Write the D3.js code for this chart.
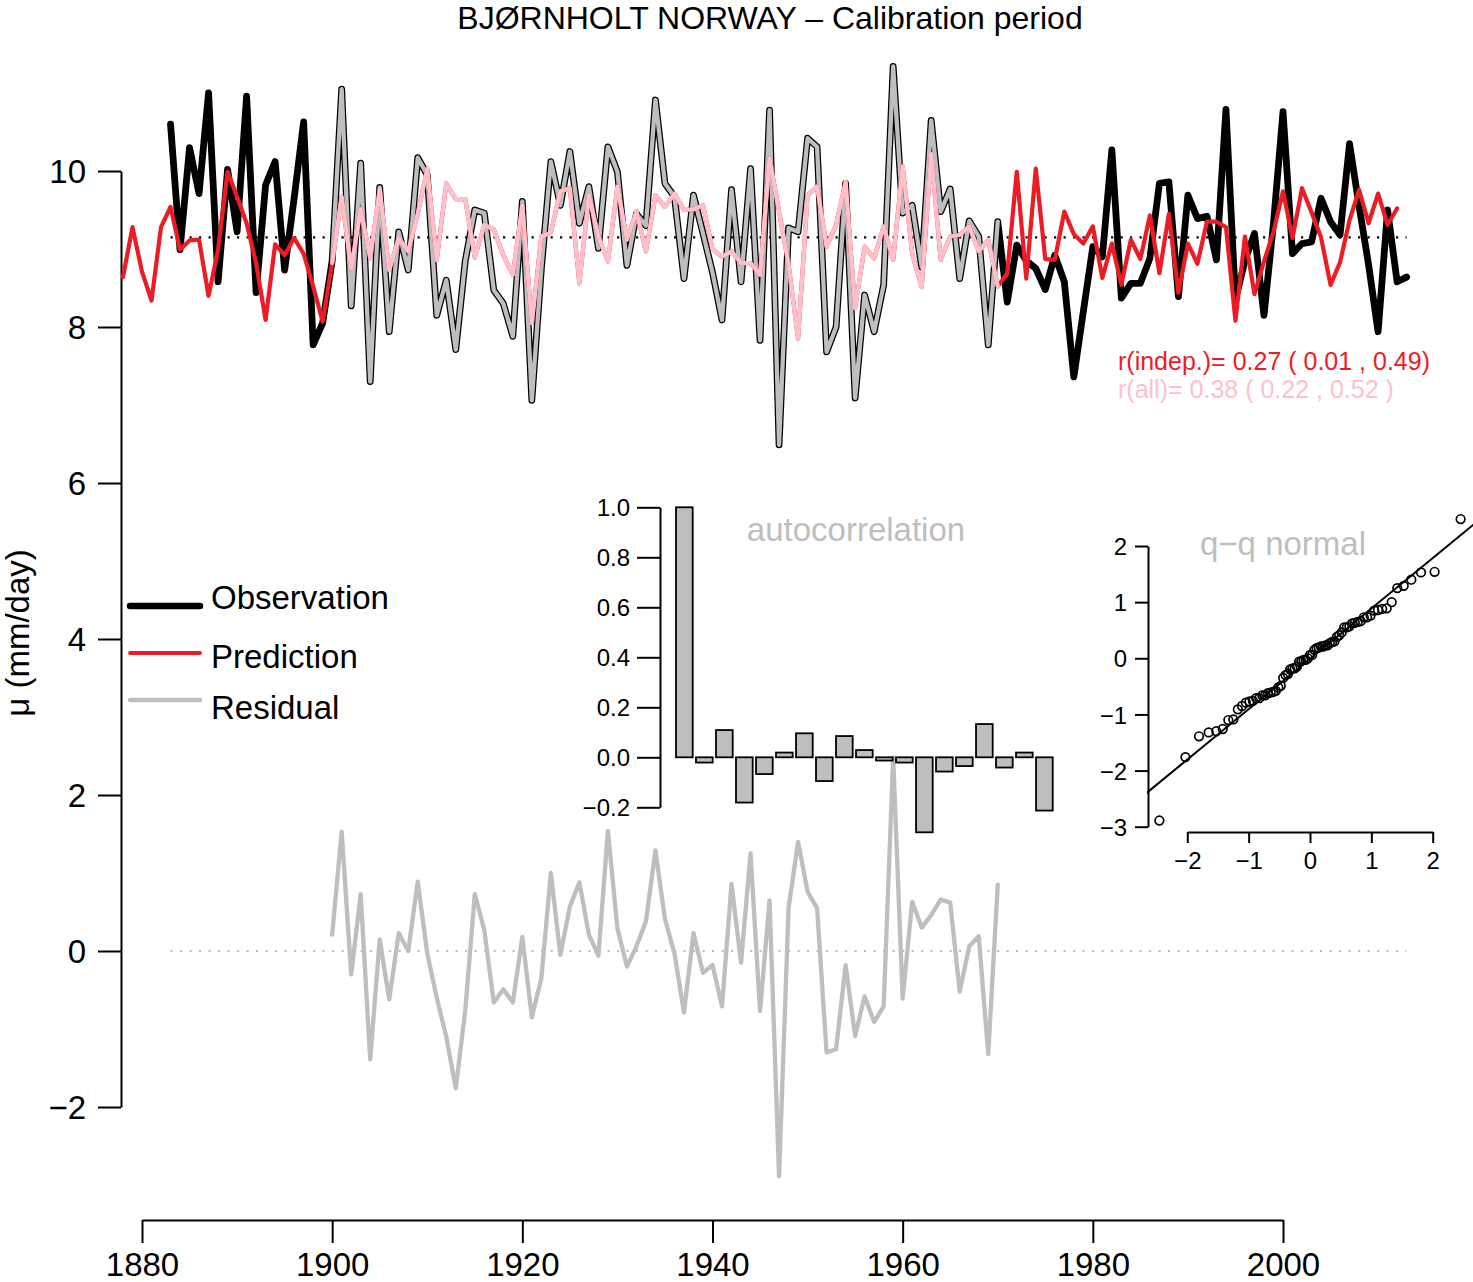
<!DOCTYPE html>
<html>
<head>
<meta charset="utf-8">
<script src="https://cdn.jsdelivr.net/npm/d3@7"></script>
<style>
  body { margin: 0; background: #fff; }
  text { font-family: "Liberation Sans", Arial, Helvetica, sans-serif; }
</style>
</head>
<body>
<svg id="viz" width="1473" height="1282"></svg>
<script>
// years for each series
const obsYears = d3.range(1883, 2014)
const predYears = d3.range(1878, 2013)
const resYears = d3.range(1900, 1971)
const calibStart = 1900, calibEnd = 1970

// observed mu (mm/day), 1883-2013
const obs = [
  10.60, 8.99, 10.30, 9.71, 11.00, 8.58, 10.02,               // 1883-1889
  9.22, 10.96, 8.44, 9.82, 10.12, 8.73, 9.65, 10.63, 7.77, 8.05, // 1890s
  8.85, 11.05, 8.27, 10.10, 7.30, 9.79, 7.94, 9.22, 8.73, 10.17, // 1900s
  9.95, 8.15, 8.60, 7.71, 8.85, 9.50, 9.46, 8.47, 8.30, 7.88,  // 1910s
  9.61, 7.06, 8.75, 10.12, 9.56, 10.25, 9.33, 9.80, 9.01, 10.31, // 1920s
  9.99, 8.79, 9.45, 9.30, 10.91, 9.84, 9.67, 8.62, 9.69, 9.20, // 1930s
  8.70, 8.09, 9.76, 8.58, 10.03, 7.83, 10.78, 6.49, 9.27, 9.22, // 1940s
  10.42, 10.31, 7.68, 8.00, 9.84, 7.09, 8.41, 7.94, 8.54, 11.34, // 1950s
  9.46, 9.56, 8.77, 10.65, 9.48, 9.77, 8.62, 9.36, 9.16, 7.77, // 1960s
  9.35, 8.32, 9.05, 8.85, 8.75, 8.48, 8.92, 8.58, 7.36, 8.20,  // 1970s
  9.03, 8.90, 10.27, 8.37, 8.56, 8.56, 8.88, 9.84, 9.86, 8.39, // 1980s
  9.69, 9.39, 9.42, 8.86, 10.79, 8.35, 8.85, 9.20, 8.15, 9.33, // 1990s
  10.76, 8.94, 9.07, 9.09, 9.65, 9.35, 9.18, 10.35, 9.55, 8.80, // 2000s
  7.94, 9.50, 8.58, 8.64                                      // 2010-2013
]

// predicted mu, 1878-2012
const pred = [
  8.64, 9.28,                                                 // 1878-1879
  8.71, 8.34, 9.28, 9.54, 8.99, 9.11, 9.12, 8.40, 8.99, 9.99,  // 1880s
  9.67, 9.33, 8.82, 8.09, 9.06, 8.92, 9.14, 8.94, 8.52, 8.07,  // 1890s
  8.82, 9.67, 8.75, 9.51, 8.88, 9.77, 8.73, 9.14, 8.97, 9.45,  // 1900s
  10.03, 8.86, 9.84, 9.64, 9.64, 8.89, 9.31, 9.25, 8.92, 8.67, // 1910s
  9.56, 8.05, 9.16, 9.21, 9.74, 9.78, 8.56, 9.69, 9.16, 8.84,  // 1920s
  9.80, 9.12, 9.48, 8.97, 9.69, 9.54, 9.71, 9.50, 9.51, 9.56,  // 1930s
  9.00, 8.90, 8.97, 8.82, 8.82, 8.67, 10.16, 9.48, 8.80, 7.85, // 1940s
  9.69, 9.80, 9.03, 9.31, 9.86, 8.24, 9.03, 8.88, 9.29, 8.86,  // 1950s
  10.06, 8.94, 8.51, 10.22, 8.86, 9.16, 9.18, 9.29, 8.97, 9.12, // 1960s
  8.52, 8.69, 9.99, 8.62, 10.03, 8.87, 8.86, 9.48, 9.19, 9.07, // 1970s
  9.29, 8.63, 9.07, 8.54, 9.12, 8.87, 9.43, 8.69, 9.45, 8.44,  // 1980s
  9.07, 8.81, 9.35, 9.35, 9.28, 8.08, 9.16, 8.42, 8.84, 9.22,  // 1990s
  9.74, 9.14, 9.78, 9.47, 9.15, 8.54, 8.83, 9.37, 9.76, 9.33,  // 2000s
  9.71, 9.31, 9.52                                            // 2010-2012
]

// residuals in the calibration period, 1900-1970
const residual = [
  0.21, 1.53, -0.30, 0.73, -1.39, 0.15, -0.62, 0.23, 0.00, 0.89,
  -0.03, -0.60, -1.10, -1.76, -0.76, 0.73, 0.27, -0.66, -0.49, -0.66,
  0.18, -0.85, -0.35, 1.00, -0.05, 0.57, 0.88, 0.21, -0.06, 1.54,
  0.29, -0.20, 0.06, 0.38, 1.29, 0.41, -0.03, -0.79, 0.23, -0.28,
  -0.18, -0.71, 0.86, -0.15, 1.25, -0.77, 0.65, -2.89, 0.55, 1.40,
  0.76, 0.55, -1.30, -1.26, -0.18, -1.09, -0.58, -0.91, -0.71, 2.48,
  -0.61, 0.63, 0.30, 0.46, 0.66, 0.62, -0.52, 0.06, 0.19, -1.32,
  0.85
]
const meanLevel = 9.15

// autocorrelation of the residuals, lags 0-18
const acfLags = d3.range(0, 19)
const acf = [1.0, -0.021, 0.109, -0.181, -0.067, 0.019, 0.096, -0.095, 0.085, 0.029,
             -0.013, -0.021, -0.30, -0.057, -0.035, 0.133, -0.041, 0.019, -0.213]

const xTicks = [1880, 1900, 1920, 1940, 1960, 1980, 2000]
const yTicks = [-2, 0, 2, 4, 6, 8, 10]
const acfTicks = [-0.2, 0, 0.2, 0.4, 0.6, 0.8, 1.0]
const qqXTicks = [-2, -1, 0, 1, 2]
const qqYTicks = [-3, -2, -1, 0, 1, 2]

const legendItems = ['Observation', 'Prediction', 'Residual']
const titleText = 'BJ\u00d8RNHOLT NORWAY \u2013 Calibration period'
const rIndep = 'r(indep.)= 0.27 ( 0.01 , 0.49)'
const rAll = 'r(all)= 0.38 ( 0.22 , 0.52 )'

const red = '#ec1c24', pink = '#ffc0cb', grey = '#bebebe'

// inverse normal cdf (Acklam)
function qnorm(p) {
  const a = [-3.969683028665376e+01, 2.209460984245205e+02, -2.759285104469687e+02, 1.383577518672690e+02, -3.066479806614716e+01, 2.506628277459239e+00]
  const b = [-5.447609879822406e+01, 1.615858368580409e+02, -1.556989798598866e+02, 6.680131188771972e+01, -1.328068155288572e+01]
  const c = [-7.784894002430293e-03, -3.223964580411365e-01, -2.400758277161838e+00, -2.549732539343734e+00, 4.374664141464968e+00, 2.938163982698783e+00]
  const d = [7.784695709041462e-03, 3.224671290700398e-01, 2.445134137142996e+00, 3.754408661907416e+00]
  const pl = 0.02425
  if (p < pl) {
    let q = Math.sqrt(-2 * Math.log(p))
    return (((((c[0]*q+c[1])*q+c[2])*q+c[3])*q+c[4])*q+c[5]) / ((((d[0]*q+d[1])*q+d[2])*q+d[3])*q+1)
  }
  if (p > 1 - pl) {
    let q = Math.sqrt(-2 * Math.log(1 - p))
    return -(((((c[0]*q+c[1])*q+c[2])*q+c[3])*q+c[4])*q+c[5]) / ((((d[0]*q+d[1])*q+d[2])*q+d[3])*q+1)
  }
  let q = p - 0.5, r = q * q
  return (((((a[0]*r+a[1])*r+a[2])*r+a[3])*r+a[4])*r+a[5])*q / (((((b[0]*r+b[1])*r+b[2])*r+b[3])*r+b[4])*r+1)
}

let svg = d3.select('#viz')

// ---------- main panel ----------
let x = d3.scaleLinear().domain([1880, 2000]).range([142, 1283])
let y = d3.scaleLinear().domain([-2, 10]).range([1107, 171])

let line = d3.line().x(d => x(d[0])).y(d => y(d[1]))

let obsData = d3.zip(obsYears, obs)
let predData = d3.zip(predYears, pred)
let resData = d3.zip(resYears, residual)
let inCal = d => d[0] >= calibStart && d[0] <= calibEnd

let main = svg.append('g')

// axes
let yAxis = main.append('g')
  .attr('transform', 'translate(121,0)')
  .call(d3.axisLeft(y).tickValues(yTicks).tickSize(23).tickSizeOuter(0).tickPadding(12))
let xAxis = main.append('g')
  .attr('transform', 'translate(0,1220)')
  .call(d3.axisBottom(x).tickValues(xTicks).tickFormat(d3.format('d')).tickSize(23).tickSizeOuter(0).tickPadding(8))

;[yAxis, xAxis].forEach(a => {
  a.selectAll('path, line').attr('stroke', '#000').attr('stroke-width', 2)
  a.selectAll('text').attr('font-size', 33).attr('font-family', null).attr('fill', '#000')
})
xAxis.selectAll('text').attr('dy', '0.76em')
yAxis.selectAll('text').attr('dy', '0.36em')

// reference dotted lines
let span = [obsYears[0], obsYears[obsYears.length - 1]]
main.append('path')
  .attr('d', line(span.map(t => [t, meanLevel])))
  .attr('stroke', '#000').attr('stroke-width', 2.2).attr('stroke-dasharray', '2.2,7.3').attr('fill', 'none')
main.append('path')
  .attr('d', line(span.map(t => [t, 0])))
  .attr('stroke', grey).attr('stroke-width', 2.2).attr('stroke-dasharray', '2.2,7.3').attr('fill', 'none')

// residual
main.append('path')
  .attr('d', line(resData))
  .attr('stroke', grey).attr('stroke-width', 4.3).attr('fill', 'none')
  .attr('stroke-linejoin', 'round').attr('stroke-linecap', 'round')

// observations: black, with the calibration part grey inside a black edge
main.append('path')
  .attr('d', line(obsData))
  .attr('stroke', '#000').attr('stroke-width', 6.8).attr('fill', 'none')
  .attr('stroke-linejoin', 'round').attr('stroke-linecap', 'round')
main.append('path')
  .attr('d', line(obsData.filter(inCal)))
  .attr('stroke', grey).attr('stroke-width', 4.3).attr('fill', 'none')
  .attr('stroke-linejoin', 'round').attr('stroke-linecap', 'round')

// prediction: red outside, pink inside calibration period
main.append('path')
  .attr('d', line(predData))
  .attr('stroke', red).attr('stroke-width', 4.2).attr('fill', 'none')
  .attr('stroke-linejoin', 'round').attr('stroke-linecap', 'round')
main.append('path')
  .attr('d', line(predData.filter(inCal)))
  .attr('stroke', pink).attr('stroke-width', 4.2).attr('fill', 'none')
  .attr('stroke-linejoin', 'round').attr('stroke-linecap', 'round')

// title, y label
svg.append('text').attr('x', 770).attr('y', 29).attr('text-anchor', 'middle')
  .attr('font-size', 32).text(titleText)
svg.append('text').attr('transform', 'translate(29,633) rotate(-90)').attr('text-anchor', 'middle')
  .attr('font-size', 33).text('\u03bc (mm/day)')

// correlation text
svg.append('text').attr('x', 1118).attr('y', 370).attr('font-size', 25).attr('fill', red).text(rIndep)
svg.append('text').attr('x', 1118).attr('y', 398).attr('font-size', 25).attr('fill', pink).text(rAll)

// legend
let legLineY = [606, 653, 700]
let legTextY = [609, 668, 719]
let legStyle = [['#000', 6.5], [red, 3.8], [grey, 4.3]]
let legend = svg.append('g')
legend.selectAll('line')
  .data(legendItems)
  .enter()
  .append('line')
  .attr('x1', 130).attr('x2', 200)
  .attr('y1', (d, i) => legLineY[i]).attr('y2', (d, i) => legLineY[i])
  .attr('stroke', (d, i) => legStyle[i][0])
  .attr('stroke-width', (d, i) => legStyle[i][1])
  .attr('stroke-linecap', 'round')
legend.selectAll('text')
  .data(legendItems)
  .enter()
  .append('text')
  .attr('x', 211)
  .attr('y', (d, i) => legTextY[i])
  .attr('font-size', 33)
  .text(d => d)

// ---------- autocorrelation inset ----------
let xa = d3.scaleBand().domain(acfLags).range([676, 1052.7]).paddingInner(1 / 6).paddingOuter(0)
let ya = d3.scaleLinear().domain([-0.2, 1.0]).range([807.3, 507.3])

let acfG = svg.append('g')
acfG.selectAll('rect')
  .data(acf)
  .enter()
  .append('rect')
  .attr('x', (d, i) => xa(acfLags[i]))
  .attr('width', xa.bandwidth())
  .attr('y', d => ya(Math.max(0, d)))
  .attr('height', d => Math.abs(ya(d) - ya(0)))
  .attr('fill', grey).attr('stroke', '#000').attr('stroke-width', 1.8)

let acfAxis = acfG.append('g')
  .attr('transform', 'translate(660,0)')
  .call(d3.axisLeft(ya).tickValues(acfTicks).tickFormat(d3.format('.1f')).tickSize(23).tickSizeOuter(0).tickPadding(7))
acfAxis.selectAll('path, line').attr('stroke', '#000').attr('stroke-width', 2)
acfAxis.selectAll('text').attr('font-size', 24).attr('font-family', null).attr('fill', '#000').attr('dy', '0.36em')

acfG.append('text').attr('x', 856).attr('y', 541).attr('text-anchor', 'middle')
  .attr('font-size', 33).attr('fill', grey).text('autocorrelation')

// ---------- q-q inset ----------
let sorted = residual.slice().sort(d3.ascending)
let n = sorted.length
let qqData = sorted.map((v, i) => [qnorm((i + 1 - 0.5) / n), v])

let xq = d3.scaleLinear().domain([-2, 2]).range([1187.3, 1432.7])
let yq = d3.scaleLinear().domain([-3, 2]).range([826.7, 546])

let qqG = svg.append('g')
svg.append('clipPath').attr('id', 'qqclip')
  .append('rect').attr('x', 1147).attr('y', 507).attr('width', 326).attr('height', 325)

let q1 = d3.quantile(sorted, 0.25), q3 = d3.quantile(sorted, 0.75)
let slope = (q3 - q1) / (qnorm(0.75) - qnorm(0.25))
let icpt = q1 - slope * qnorm(0.25)
qqG.append('path')
  .attr('clip-path', 'url(#qqclip)')
  .attr('d', d3.line().x(d => xq(d)).y(d => yq(icpt + slope * d))([-3, 3]))
  .attr('stroke', '#000').attr('stroke-width', 2).attr('fill', 'none')

qqG.selectAll('circle')
  .data(qqData)
  .enter()
  .append('circle')
  .attr('cx', d => xq(d[0]))
  .attr('cy', d => yq(d[1]))
  .attr('r', 4.3)
  .attr('fill', 'none').attr('stroke', '#000').attr('stroke-width', 1.7)

let qqY = qqG.append('g')
  .attr('transform', 'translate(1148,0)')
  .call(d3.axisLeft(yq).tickValues(qqYTicks).tickFormat(d3.format('d')).tickSize(13).tickSizeOuter(0).tickPadding(8))
let qqX = qqG.append('g')
  .attr('transform', 'translate(0,832)')
  .call(d3.axisBottom(xq).tickValues(qqXTicks).tickFormat(d3.format('d')).tickSize(11).tickSizeOuter(0).tickPadding(8))
;[qqY, qqX].forEach(a => {
  a.selectAll('path, line').attr('stroke', '#000').attr('stroke-width', 2)
  a.selectAll('text').attr('font-size', 24).attr('font-family', null).attr('fill', '#000')
})
qqY.selectAll('text').attr('dy', '0.36em')
qqX.selectAll('text').attr('dy', '0.75em')

qqG.append('text').attr('x', 1283).attr('y', 555).attr('text-anchor', 'middle')
  .attr('font-size', 33).attr('fill', grey).text('q\u2212q normal')
</script>
</body>
</html>
